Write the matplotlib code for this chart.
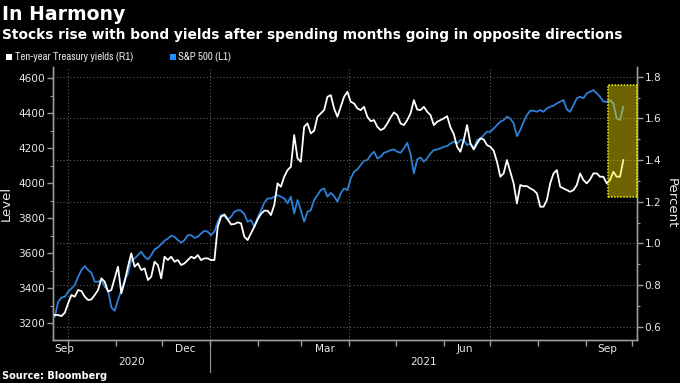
import matplotlib
matplotlib.use("Agg")
import matplotlib.pyplot as plt
import matplotlib.dates as mdates
import matplotlib.transforms as mtrans
from matplotlib.patches import Rectangle
import pandas as pd
import numpy as np

# ---------------- data ----------------
start_date = "2020-09-22 16:00"
end_date = "2021-09-25 04:00"

yields_10y = [
    0.656, 0.656, 0.651, 0.667, 0.712, 0.752, 0.744, 0.776, 0.771, 0.744,
    0.728, 0.731, 0.752, 0.776, 0.832, 0.816, 0.768, 0.776, 0.832, 0.888,
    0.760, 0.816, 0.888, 0.952, 0.888, 0.904, 0.872, 0.880, 0.824, 0.840,
    0.912, 0.896, 0.832, 0.936, 0.920, 0.936, 0.912, 0.920, 0.896, 0.904,
    0.920, 0.936, 0.928, 0.944, 0.920, 0.928, 0.928, 0.920, 0.920, 1.080,
    1.128, 1.139, 1.115, 1.091, 1.093, 1.101, 1.096, 1.032, 1.016, 1.048,
    1.080, 1.115, 1.141, 1.157, 1.157, 1.136, 1.184, 1.288, 1.272, 1.320,
    1.352, 1.368, 1.520, 1.408, 1.392, 1.560, 1.576, 1.528, 1.541, 1.608,
    1.624, 1.640, 1.704, 1.712, 1.648, 1.608, 1.656, 1.704, 1.728, 1.680,
    1.672, 1.648, 1.640, 1.656, 1.608, 1.587, 1.592, 1.560, 1.544, 1.552,
    1.576, 1.605, 1.629, 1.616, 1.576, 1.568, 1.592, 1.624, 1.688, 1.643,
    1.640, 1.656, 1.632, 1.616, 1.568, 1.584, 1.592,
    1.600, 1.611, 1.557, 1.525, 1.464, 1.440, 1.496, 1.568, 1.480, 1.451,
    1.480, 1.504, 1.499, 1.472, 1.464, 1.445, 1.392, 1.320, 1.336, 1.400,
    1.344, 1.288, 1.192, 1.280, 1.275, 1.275, 1.264, 1.256, 1.240, 1.176,
    1.176, 1.208, 1.288, 1.336, 1.352, 1.272, 1.264, 1.256, 1.248, 1.256,
    1.280, 1.336, 1.304, 1.288, 1.307, 1.336, 1.336, 1.320, 1.320, 1.288,
    1.304, 1.344, 1.320, 1.320, 1.400,
]

spx = [
    3238, 3323, 3348, 3352, 3381, 3400, 3419, 3466, 3505, 3527,
    3505, 3489, 3438, 3438, 3447, 3409, 3390, 3291, 3272, 3333,
    3390, 3447, 3485, 3562, 3571, 3590, 3609, 3581, 3565, 3590,
    3623, 3634, 3653, 3672, 3685, 3701, 3695, 3676, 3661, 3676,
    3704, 3704, 3689, 3695, 3714, 3729, 3724, 3704, 3724, 3781,
    3819, 3813, 3794, 3809, 3838, 3847, 3844, 3824, 3781, 3790,
    3752, 3805, 3844, 3889, 3914, 3914, 3924, 3933, 3924, 3914,
    3886, 3924, 3828, 3905, 3847, 3781, 3838, 3847, 3905, 3933,
    3962, 3971, 3924, 3946, 3927, 3895, 3943, 3971, 3962, 4028,
    4066, 4080, 4105, 4129, 4133, 4162, 4181, 4143, 4152, 4175,
    4181, 4190, 4194, 4181, 4175, 4200, 4232, 4167, 4057, 4137,
    4148, 4124, 4143, 4171, 4190, 4194, 4200,
    4209, 4213, 4228, 4238, 4228, 4247, 4247, 4219, 4228, 4200,
    4247, 4257, 4276, 4295, 4295, 4314, 4333, 4352, 4362, 4381,
    4371, 4343, 4270, 4305, 4352, 4390, 4415, 4415, 4409, 4419,
    4409, 4428, 4438, 4444, 4457, 4467, 4476, 4423, 4409, 4447,
    4486, 4495, 4486, 4514, 4524, 4533, 4514, 4495, 4467, 4467,
    4476, 4457, 4371, 4362, 4438,
]

month_labels = ["Sep", "Dec", "Mar", "Jun", "Sep"]
month_label_dates = ["2020-09-29", "2020-12-16", "2021-03-16", "2021-06-15", "2021-09-15"]
year_labels = ["2020", "2021"]
legend_labels = ["Ten-year Treasury yields (R1)", "S&P 500 (L1)"]
title = "In Harmony"
subtitle = "Stocks rise with bond yields after spending months going in opposite directions"
source = "Source: Bloomberg"
highlight_start = "2021-09-15"
highlight_low, highlight_high = 1.224, 1.76

dates = pd.date_range(start_date, end_date, periods=len(spx))

# ---------------- style ----------------
BG = "#000000"
TXT = "#e8e8e8"
AXC = "#9a9a9a"
GRID = "#5c5c5c"
BLUE = "#2e80d6"
BLUE_SQ = "#1e8fff"
WHITE = "#ffffff"
TICKFONT = ["DejaVu Sans"]
NARROW = ["Archivo Narrow", "Liberation Sans Narrow", "DejaVu Sans"]

W, H = 680, 383
fig = plt.figure(figsize=(W / 100, H / 100), dpi=100, facecolor=BG)

x0, x1 = 52.7, 637.0
ytop, ybot = 67.0, 340.0
ax = fig.add_axes([x0 / W, 1 - ybot / H, (x1 - x0) / W, (ybot - ytop) / H])
ax.set_facecolor(BG)
ax2 = ax.twinx()

# lines
ax.plot(dates, spx, color=BLUE, lw=1.3, zorder=3)
ax2.plot(dates, yields_10y, color=WHITE, lw=1.3, zorder=3)

ax.set_xlim(pd.Timestamp("2020-09-21 07:00"), pd.Timestamp("2021-10-04"))
ax.set_ylim(3105, 4665)
ax2.set_ylim(0.536, 1.847)

# y ticks
ax.yaxis.set_major_locator(matplotlib.ticker.MultipleLocator(200))
ax.yaxis.set_minor_locator(matplotlib.ticker.MultipleLocator(100))
ax2.yaxis.set_major_locator(matplotlib.ticker.MultipleLocator(0.2))
ax2.yaxis.set_minor_locator(matplotlib.ticker.MultipleLocator(0.1))
ax2.yaxis.set_major_formatter(matplotlib.ticker.FormatStrFormatter("%.1f"))

for a in (ax, ax2):
    for s in a.spines.values():
        s.set_color(AXC)
        s.set_linewidth(1.0)
    a.spines["top"].set_visible(False)
    a.tick_params(axis="y", which="major", colors=AXC, labelcolor=TXT, length=4,
                  width=1.0, labelsize=7.6, pad=1.5)
    a.tick_params(axis="y", which="minor", colors=AXC, length=2.5, width=0.8)
    for lab in a.get_yticklabels():
        lab.set_family(TICKFONT)

# horizontal grid at right-axis major ticks
ax2.yaxis.grid(True, which="major", color=GRID, linestyle=(0, (1, 2)), lw=0.8, zorder=0)
ax2.set_axisbelow(True)

# x ticks: month starts as tick marks, labels in the middle of months
month_starts = pd.date_range("2020-10-01", "2021-10-01", freq="MS")
ax.set_xticks(month_starts)
ax.set_xticklabels([""] * len(month_starts))
ax.set_xticks(pd.to_datetime(month_label_dates), minor=True)
ax.set_xticklabels(month_labels, minor=True)
ax.tick_params(axis="x", which="major", colors=AXC, length=4, width=1.0)
ax.tick_params(axis="x", which="minor", length=0, labelcolor=TXT, labelsize=7.6, pad=3)
ax2.tick_params(axis="x", which="both", length=0)

# vertical grid at quarter starts
for d in ["2020-10-01", "2021-01-01", "2021-04-01", "2021-07-01"]:
    ax.axvline(pd.Timestamp(d), color=GRID, linestyle=(0, (1, 2)), lw=0.8, zorder=0)

# year labels and separator
bt = mtrans.blended_transform_factory(ax.transData, ax.transAxes)
xl = ax.get_xlim()
jan1 = mdates.date2num(pd.Timestamp("2021-01-01"))
ax.text((xl[0] + jan1) / 2, -0.081, year_labels[0], transform=bt, ha="center", va="center",
        color=TXT, fontsize=7.6, family=TICKFONT)
ax.text((jan1 + xl[1]) / 2, -0.081, year_labels[1], transform=bt, ha="center", va="center",
        color=TXT, fontsize=7.6, family=TICKFONT)
ax.plot([jan1, jan1], [0, -0.117], transform=bt, color=AXC, lw=0.8, clip_on=False)

# axis labels
ax.set_ylabel("Level", color=TXT, fontsize=9.5, labelpad=4)
ax2.set_ylabel("Percent", color=TXT, fontsize=9.5, rotation=270, labelpad=12)

# highlight box
hs = mdates.date2num(pd.Timestamp(highlight_start))
ax2.add_patch(Rectangle((hs, highlight_low), xl[1] - hs, highlight_high - highlight_low,
                        facecolor=(1.0, 0.9, 0.0, 0.43), edgecolor="#f2f000",
                        linestyle=(0, (1, 1)), lw=1.1, zorder=5, clip_on=False))

# ---------------- header / footer texts ----------------
renderer = fig.canvas.get_renderer()


def fit(t, target):
    w = t.get_window_extent(renderer).width
    t.set_fontsize(t.get_fontsize() * target / w)


t_title = fig.text(2 / W, 1 - 20 / H, title, color=WHITE, fontsize=13, fontweight="bold",
                   family=["DejaVu Sans"], va="baseline", ha="left")
fit(t_title, 122)
t_sub = fig.text(2 / W, 1 - 39.5 / H, subtitle, color=WHITE, fontsize=10.5, fontweight="bold",
                 family=["DejaVu Sans"], va="baseline", ha="left")
fit(t_sub, 629)

fig.patches.append(Rectangle((6 / W, 1 - 60 / H), 5.5 / W, 6 / H, transform=fig.transFigure,
                             facecolor=WHITE, edgecolor="none"))
fig.patches.append(Rectangle((170 / W, 1 - 60 / H), 5.5 / W, 6 / H, transform=fig.transFigure,
                             facecolor=BLUE_SQ, edgecolor="none"))
t_l1 = fig.text(15 / W, 1 - 60.5 / H, legend_labels[0], color=TXT, fontsize=8,
                family=NARROW, va="baseline", ha="left")
fit(t_l1, 117)
t_l2 = fig.text(178 / W, 1 - 60.5 / H, legend_labels[1], color=TXT, fontsize=t_l1.get_fontsize(),
                family=NARROW, va="baseline", ha="left")

t_src = fig.text(2 / W, 1 - 376 / H, source, color=WHITE, fontsize=7, fontweight="bold",
                 family=["DejaVu Sans"], va="center", ha="left")
fit(t_src, 105)

fig.savefig("out.png", dpi=100, facecolor=BG)
